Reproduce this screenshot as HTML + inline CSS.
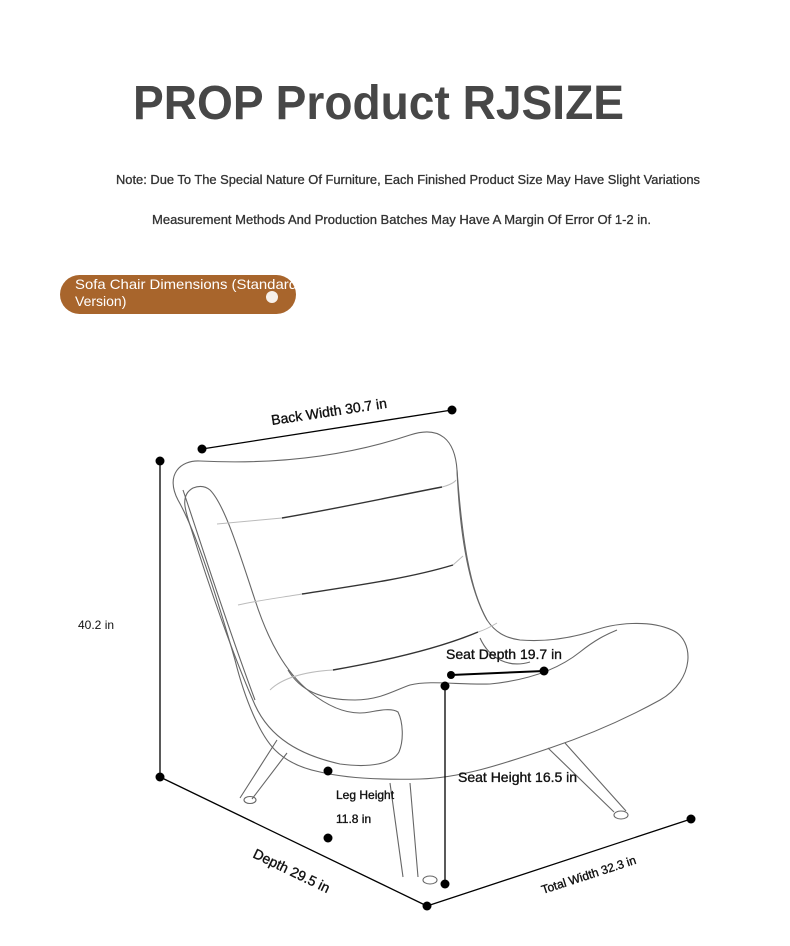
<!DOCTYPE html>
<html><head><meta charset="utf-8"><style>
html,body{margin:0;padding:0;background:#fff;width:790px;height:946px;overflow:hidden}
svg{display:block;font-family:"Liberation Sans",sans-serif}
</style></head><body>
<svg width="790" height="946" viewBox="0 0 790 946" xmlns="http://www.w3.org/2000/svg">
<rect x="0" y="0" width="790" height="946" fill="#fff"/>
<text x="133" y="119" font-size="48" font-weight="bold" fill="#474747" textLength="491" lengthAdjust="spacingAndGlyphs">PROP Product RJSIZE</text>
<g fill="#333" stroke="#333" stroke-width="0.3">
<text x="116" y="184" font-size="12.5" textLength="584" lengthAdjust="spacingAndGlyphs">Note: Due To The Special Nature Of Furniture, Each Finished Product Size May Have Slight Variations</text>
<text x="152" y="224" font-size="12.5" textLength="499" lengthAdjust="spacingAndGlyphs">Measurement Methods And Production Batches May Have A Margin Of Error Of 1-2 in.</text>
</g>
<rect x="60" y="275" width="236" height="39" rx="19.5" fill="#a8652c"/>
<text x="75" y="289" font-size="14" fill="#fff" textLength="222" lengthAdjust="spacingAndGlyphs">Sofa Chair Dimensions (Standard</text>
<text x="75" y="306" font-size="14" fill="#fff">Version)</text>
<circle cx="272" cy="297" r="6" fill="#fff" opacity="0.9"/>

<g fill="none" stroke="#666" stroke-width="1.1">
<path d="M277,740 L240,798 M287,753 L252,799"/>
<ellipse cx="250" cy="800" rx="6" ry="3.5"/>
<path d="M390,783 L403,877 M410,783 L418,877"/>
<ellipse cx="430" cy="880" rx="7" ry="4"/>
<path d="M548,748 L614,812 M565,743 L626,811"/>
<ellipse cx="621" cy="815" rx="7" ry="4"/>
<path d="M200,461 C280,465 350,455 410,435 C440,425 455,440 457,470 C462,540 470,590 487,620 C495,632 505,638 520,640 C545,642 570,638 590,632 C615,622 650,620 672,630 C695,640 695,680 660,700 C620,722 580,738 550,748 C500,765 460,778 420,779 C380,780 345,778 320,772 C300,768 285,760 275,750 C260,735 245,700 235,660 C215,590 195,530 178,500 C165,475 180,460 200,461 Z"/>
<path d="M193,488 C180,495 185,510 190,525 C210,590 235,660 255,705 C270,738 300,755 340,764 C370,768 392,764 399,752 C404,740 403,722 398,712 C392,708 380,710 370,712 C350,716 330,708 310,692 C285,672 268,640 255,600 C240,555 225,505 210,490 C204,485 198,486 193,488 Z"/>
<path d="M183,490 C200,540 225,620 255,700"/>
<path d="M457,470 C460,540 470,590 487,620"/>
<path d="M288,670 C300,690 320,700 355,700 C380,700 395,690 410,685 C430,680 460,685 490,684 C530,680 560,668 580,652 C595,640 605,635 617,630"/>
<path d="M480,638 C490,660 510,668 530,662"/>
</g>
<g fill="none" stroke-width="1">
<path d="M217,524 C240,522 260,520 282,518 M442,487 C450,485 455,482 456,480" stroke="#bbb"/>
<path d="M282,518 C340,508 400,495 442,487" stroke="#333" stroke-width="1.4"/>
<path d="M238,605 C260,600 285,597 302,594 M453,565 L463,556" stroke="#bbb"/>
<path d="M302,594 C360,585 410,578 453,565" stroke="#333" stroke-width="1.4"/>
<path d="M270,690 C280,680 300,672 333,670 M478,632 C485,630 492,626 497,623" stroke="#bbb"/>
<path d="M333,670 C390,660 440,648 478,632" stroke="#333" stroke-width="1.4"/>
</g>

<g stroke="#000" stroke-width="1.3" fill="none">
<line x1="202" y1="449" x2="452" y2="410"/>
<line x1="160" y1="461" x2="160" y2="777"/>
<line x1="160" y1="777" x2="427" y2="906"/>
<line x1="427" y1="906" x2="691" y2="819"/>
<line x1="445" y1="686" x2="445" y2="884"/>
<line x1="451" y1="675" x2="544" y2="671" stroke-width="2"/>
</g>
<g fill="#000">
<circle cx="202" cy="449" r="4.5"/><circle cx="452" cy="410" r="4.5"/>
<circle cx="160" cy="461" r="4.5"/><circle cx="160" cy="777" r="4.5"/>
<circle cx="427" cy="906" r="4.5"/><circle cx="691" cy="819" r="4.5"/>
<circle cx="445" cy="686" r="4.5"/><circle cx="445" cy="884" r="4.5"/>
<circle cx="451" cy="675" r="4"/><circle cx="544" cy="671" r="4.5"/>
<circle cx="328" cy="771" r="4.5"/><circle cx="328" cy="838" r="4.5"/>
</g>

<g fill="#111" stroke="#111" stroke-width="0.35">
<text x="0" y="0" font-size="14" transform="translate(272,425) rotate(-8.5)">Back Width 30.7 in</text>
<text x="78" y="629" font-size="12" stroke-width="0">40.2 in</text>
<text x="446" y="659" font-size="14">Seat Depth 19.7 in</text>
<text x="458" y="782" font-size="14">Seat Height 16.5 in</text>
<text x="336" y="799" font-size="12">Leg Height</text>
<text x="336" y="823" font-size="12">11.8 in</text>
<text x="0" y="0" font-size="14" transform="translate(252,857) rotate(25.8)">Depth 29.5 in</text>
<text x="0" y="0" font-size="12" transform="translate(543,894) rotate(-18)">Total Width 32.3 in</text>
</g>
</svg>
</body></html>
